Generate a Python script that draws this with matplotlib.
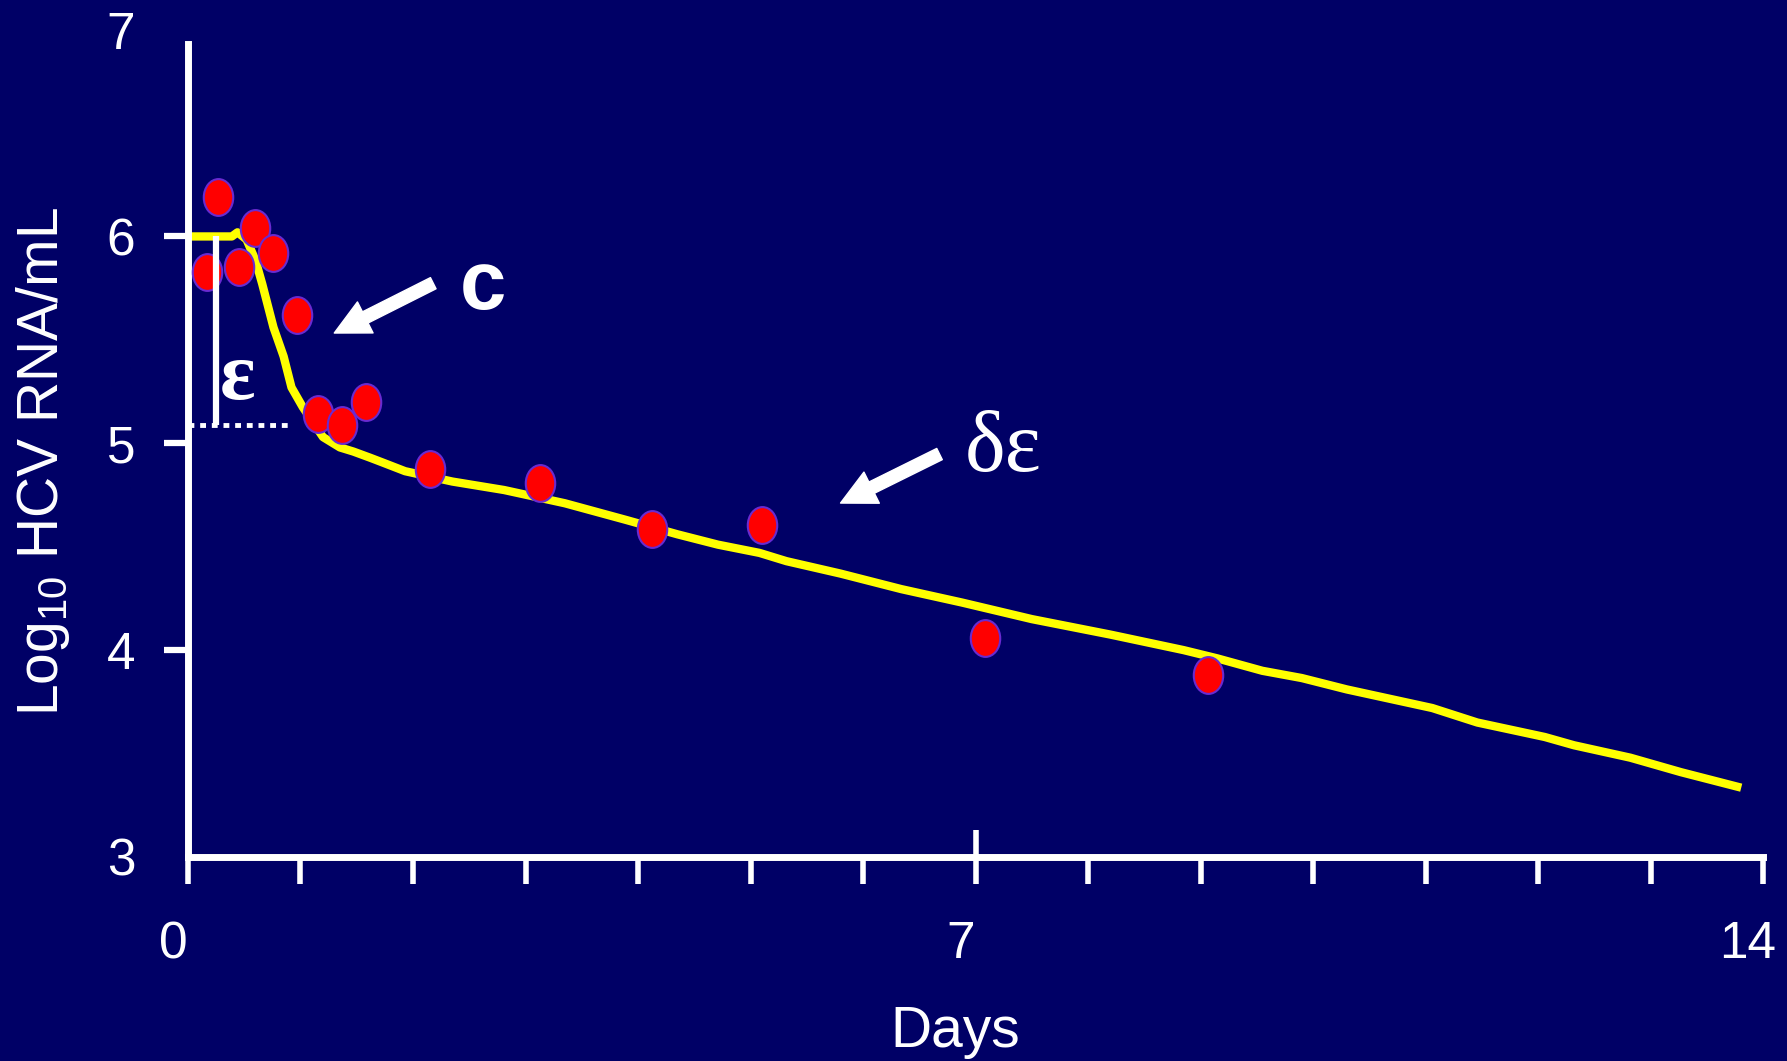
import matplotlib
matplotlib.use('Agg')
import matplotlib.pyplot as plt
from matplotlib import ticker
from matplotlib.path import Path
from matplotlib.transforms import Affine2D, ScaledTranslation

plt.rcParams['font.family'] = ['Liberation Sans', 'DejaVu Sans']
plt.rcParams['mathtext.fontset'] = 'custom'
plt.rcParams['mathtext.rm'] = 'Liberation Sans'

# observed viral load (red dots)
days_obs = [0.27, 0.17, 0.45, 0.60, 0.76, 0.97, 1.16, 1.37, 1.58, 2.15,
            3.13, 4.12, 5.10, 7.08, 9.07]
log_obs = [6.19, 5.83, 5.85, 6.04, 5.92, 5.62, 5.14, 5.09, 5.20, 4.875,
           4.81, 4.585, 4.605, 4.06, 3.88]

# model fit (yellow line)
days_fit = [0, 0.39, 0.44, 0.52, 0.60, 0.66, 0.76, 0.85, 0.92, 1.02,
            1.20, 1.35, 1.47, 1.62, 1.74, 1.93, 2.35, 2.81, 3.35, 3.89,
            4.35, 4.71, 5.08, 5.32, 5.80, 6.34, 6.88, 7.50, 8.20, 8.85,
            9.15, 9.55, 9.90, 10.30, 11.06, 11.46, 12.06, 12.32, 12.82, 13.27,
            13.77]
log_fit = [6.0, 6.0, 6.02, 5.985, 5.885, 5.77, 5.56, 5.42, 5.27, 5.175,
           5.03, 4.98, 4.96, 4.93, 4.905, 4.865, 4.815, 4.774, 4.71, 4.63,
           4.56, 4.51, 4.47, 4.43, 4.37, 4.295, 4.23, 4.15, 4.075, 4.00,
           3.96, 3.90, 3.865, 3.81, 3.72, 3.65, 3.58, 3.54, 3.48, 3.41,
           3.34]

# epsilon bracket: baseline level and end of first phase
eps_x = 0.25
eps_top = 6.0
eps_bottom = 5.09
eps_dots_end = 0.9

x_labels = {0: '0', 14: '14'}
y_ticks = [4, 5, 6]
y_extra = [3, 7]

bg = '#000066'
fig = plt.figure(figsize=(17.87, 10.61), dpi=100, facecolor=bg)
ax = fig.add_axes([0.1052, 0.1923, 0.8940, 0.7798], facecolor=bg)

ax.plot(days_fit, log_fit, color='#ffff00', lw=6, solid_joinstyle='round', zorder=2)

ell = Path.unit_circle().transformed(Affine2D().scale(0.8, 1.0))
ax.plot(days_obs, log_obs, ls='none', marker=ell, ms=26.5, mfc='#ff0000',
        mec='#6a2ad0', mew=1.5, zorder=3)

# epsilon bracket
ax.vlines(eps_x, eps_bottom, eps_top, colors='white', lw=4.5, zorder=4)
ax.hlines(eps_bottom, 0, eps_dots_end, colors='white', lw=3.5,
          linestyles=(0, (1.2, 1.2)), zorder=4)

ax.text(0.44, 5.31, 'ε', color='white', fontsize=60, fontweight='bold',
        family=['Liberation Serif', 'DejaVu Serif'], ha='center', va='center')
ax.text(2.62, 5.755, 'c', color='white', fontsize=60, fontweight='bold',
        ha='center', va='center')
ax.text(7.25, 4.967, 'δε', color='white', fontsize=62,
        family=['Liberation Serif', 'DejaVu Serif'], ha='center', va='center')

arrow = dict(arrowstyle='simple,head_length=1.25,head_width=1.25,tail_width=0.45',
             fc='white', ec='white', shrinkA=0, shrinkB=0, mutation_scale=20)
ax.annotate('', xy=(1.30, 5.533), xytext=(2.18, 5.774), arrowprops=arrow)
ax.annotate('', xy=(5.80, 4.711), xytext=(6.68, 4.948), arrowprops=arrow)

ax.set_xlim(0, 14.2)
ax.set_ylim(3, 7)
for s in ['top', 'right']:
    ax.spines[s].set_visible(False)
for s in ['left', 'bottom']:
    ax.spines[s].set_color('white')
    ax.spines[s].set_linewidth(5)
ax.spines['left'].set_bounds(3, 6.93)
ax.spines['bottom'].set_bounds(0, 14)

# x ticks: day 7 crosses the axis, the rest point down
minor_days = [d for d in range(15) if d != 7]
ax.xaxis.set_major_locator(ticker.FixedLocator([7]))
ax.xaxis.set_major_formatter(ticker.FixedFormatter(['7']))
ax.xaxis.set_minor_locator(ticker.FixedLocator(minor_days))
ax.xaxis.set_minor_formatter(ticker.FixedFormatter([x_labels.get(d, '') for d in minor_days]))
ax.tick_params(axis='x', which='major', direction='inout', length=39, width=4,
               color='white', labelcolor='white', labelsize=37, pad=26)
ax.tick_params(axis='x', which='minor', direction='out', length=19.5, width=4,
               color='white', labelcolor='white', labelsize=37, pad=26)

# labels in the original sit a little left of their ticks
shift = ScaledTranslation(-0.15, 0, fig.dpi_scale_trans)
for t in ax.xaxis.get_major_ticks() + ax.xaxis.get_minor_ticks():
    t.label1.set_transform(t.label1.get_transform() + shift)

ax.yaxis.set_major_locator(ticker.FixedLocator(y_ticks))
ax.yaxis.set_minor_locator(ticker.FixedLocator(y_extra))
ax.yaxis.set_minor_formatter(ticker.FixedFormatter([str(v) for v in y_extra]))
ax.tick_params(axis='y', which='major', direction='out', length=17, width=4.5,
               color='white', labelcolor='white', labelsize=37, pad=21)
ax.tick_params(axis='y', which='minor', length=0, labelcolor='white',
               labelsize=37, pad=38)

fig.text(955 / 1787, 1 - 1047 / 1061, 'Days', color='white', fontsize=41,
         ha='center', va='baseline')
fig.text(58 / 1787, 1 - 461 / 1061, 'Log$_{\\mathregular{10}}$ HCV RNA/mL',
         color='white', fontsize=41, rotation=90, rotation_mode='anchor',
         ha='center', va='baseline')

fig.savefig('out.png', dpi=100, facecolor=bg)
